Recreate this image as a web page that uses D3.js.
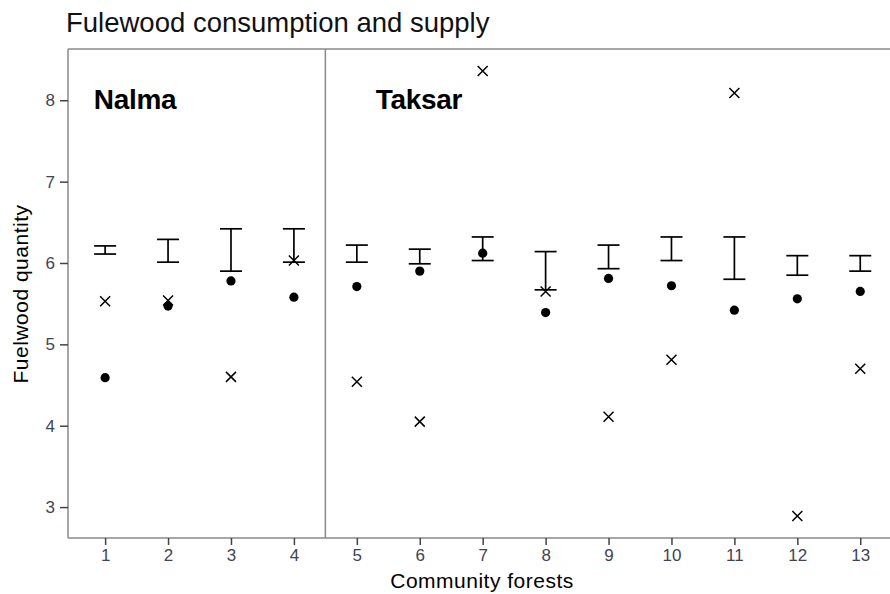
<!DOCTYPE html>
<html>
<head>
<meta charset="utf-8">
<script src="https://cdn.jsdelivr.net/npm/d3@7"></script>
<style>
  html, body { margin: 0; padding: 0; background: #fff; }
  svg { display: block; font-family: "Liberation Sans", Arial, sans-serif; }
</style>
</head>
<body>
<svg id="chart" width="890" height="594"></svg>
<script>
// Community forest ids (1-4 Nalma, 5-13 Taksar)
const forests = [1, 2, 3, 4, 5, 6, 7, 8, 9, 10, 11, 12, 13];
// Supply range per forest (error bar ends)
const supplyLow  = [6.11, 6.01, 5.90, 6.01, 6.01, 5.99, 6.03, 5.67, 5.93, 6.03, 5.80, 5.85, 5.90];
const supplyHigh = [6.21, 6.29, 6.42, 6.42, 6.22, 6.17, 6.32, 6.14, 6.22, 6.32, 6.32, 6.09, 6.09];
// Consumption (filled dots)
const consumption = [4.59, 5.47, 5.78, 5.58, 5.71, 5.90, 6.12, 5.39, 5.81, 5.72, 5.42, 5.56, 5.65];
// Second estimate (crosses)
const estimate = [5.53, 5.54, 4.60, 6.03, 4.54, 4.05, 8.36, 5.65, 4.11, 4.81, 8.09, 2.89, 4.70];
// Axis ticks
const xTicks = forests;
const yTicks = [3, 4, 5, 6, 7, 8];
// Village groups
const groups = [
  { name: "Nalma", labelAt: 0.82 },
  { name: "Taksar", labelAt: 5.30 }
];
const groupBoundary = 4.5;

const svg = d3.select("#chart");
const plotL = 68, plotT = 49, plotR = 898, plotB = 538;

const x = d3.scaleLinear().domain([0.41, 13.6]).range([plotL, plotR]);
const y = d3.scaleLinear().domain([2.62, 8.63]).range([plotB, plotT]);

const frameColor = "#8a8a8a";
const tickColor = "#3f4452";
const narrow = "'Liberation Sans Narrow', 'Liberation Sans', Arial, sans-serif";

// Title
svg.append("text")
  .attr("x", 66).attr("y", 32)
  .attr("font-size", 27.5)
  .attr("fill", "#111")
  .text("Fulewood consumption and supply");

// Frame: left and top lines
svg.append("line").attr("x1", plotL).attr("x2", plotL).attr("y1", plotT).attr("y2", plotB)
  .attr("stroke", frameColor).attr("stroke-width", 1.5);
svg.append("line").attr("x1", plotL).attr("x2", 890).attr("y1", plotT).attr("y2", plotT)
  .attr("stroke", frameColor).attr("stroke-width", 1.5);

// Group divider
svg.append("line")
  .attr("x1", x(groupBoundary)).attr("x2", x(groupBoundary))
  .attr("y1", plotT).attr("y2", plotB)
  .attr("stroke", frameColor).attr("stroke-width", 1.5);

// X axis
const xAxis = svg.append("g")
  .attr("transform", `translate(0,${plotB})`)
  .call(d3.axisBottom(x).tickValues(xTicks).tickSize(7).tickPadding(4).tickFormat(d3.format("d")));
xAxis.select(".domain").attr("stroke", frameColor).attr("stroke-width", 1.5)
  .attr("d", `M${plotL},0H890`);
xAxis.selectAll(".tick line").attr("stroke", "#444").attr("stroke-width", 1.5);
xAxis.selectAll(".tick text").attr("font-size", 17).attr("fill", tickColor)
  .attr("font-family", narrow);

// Y axis
const yAxis = svg.append("g")
  .attr("transform", `translate(${plotL},0)`)
  .call(d3.axisLeft(y).tickValues(yTicks).tickSize(8).tickPadding(5).tickFormat(d3.format("d")));
yAxis.select(".domain").remove();
yAxis.selectAll(".tick line").attr("stroke", "#444").attr("stroke-width", 1.5);
yAxis.selectAll(".tick text").attr("font-size", 17).attr("fill", tickColor)
  .attr("font-family", narrow);

// Axis titles
svg.append("text")
  .attr("x", 482).attr("y", 588)
  .attr("text-anchor", "middle").attr("font-size", 21).attr("fill", "#000")
  .attr("letter-spacing", 0.5)
  .text("Community forests");
svg.append("text")
  .attr("transform", `translate(28,294) rotate(-90)`)
  .attr("text-anchor", "middle").attr("font-size", 21).attr("fill", "#000")
  .attr("letter-spacing", 0.5)
  .text("Fuelwood quantity");

// Group labels
svg.selectAll("text.group")
  .data(groups).join("text")
  .attr("class", "group")
  .attr("x", d => x(d.labelAt))
  .attr("y", 109)
  .attr("font-size", 28).attr("font-weight", "bold").attr("fill", "#000")
  .attr("letter-spacing", -0.3)
  .text(d => d.name);

const rows = forests.map((f, i) => ({
  f, lo: supplyLow[i], hi: supplyHigh[i], c: consumption[i], e: estimate[i]
}));

// Supply error bars
const capW = 11;
const bars = svg.append("g").attr("stroke", "#000").attr("stroke-width", 1.7).attr("fill", "none");
rows.forEach(r => {
  const cx = x(r.f);
  bars.append("line").attr("x1", cx).attr("x2", cx).attr("y1", y(r.lo)).attr("y2", y(r.hi));
  bars.append("line").attr("x1", cx - capW).attr("x2", cx + capW).attr("y1", y(r.hi)).attr("y2", y(r.hi));
  bars.append("line").attr("x1", cx - capW).attr("x2", cx + capW).attr("y1", y(r.lo)).attr("y2", y(r.lo));
});

// Consumption dots
svg.append("g").selectAll("circle")
  .data(rows).join("circle")
  .attr("cx", d => x(d.f)).attr("cy", d => y(d.c))
  .attr("r", 4.6).attr("fill", "#000");

// Crosses
const cs = 5;
svg.append("g").selectAll("path")
  .data(rows).join("path")
  .attr("d", d => {
    const cx = x(d.f), cy = y(d.e);
    return `M${cx - cs},${cy - cs}L${cx + cs},${cy + cs}M${cx - cs},${cy + cs}L${cx + cs},${cy - cs}`;
  })
  .attr("stroke", "#000").attr("stroke-width", 1.5).attr("fill", "none");
</script>
</body>
</html>
